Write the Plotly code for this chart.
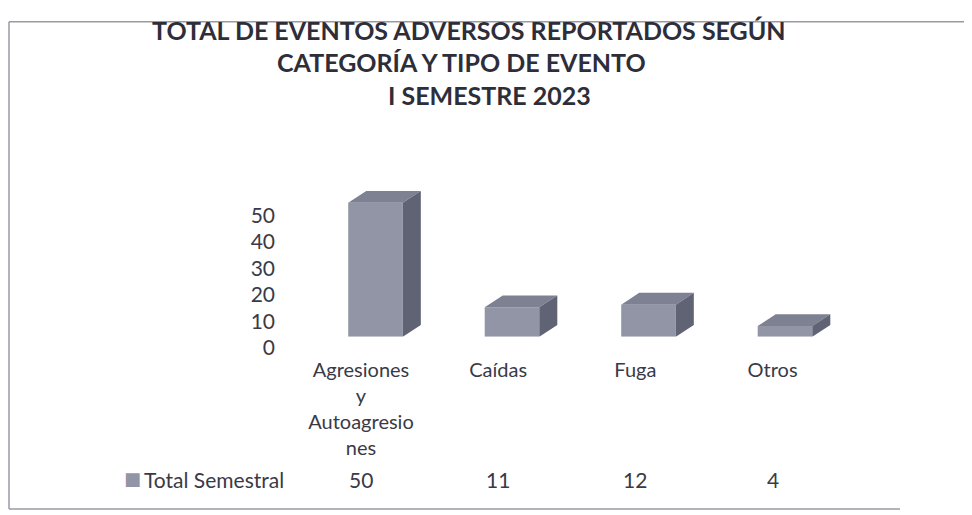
import plotly.graph_objects as go

categories = ["Agresiones y Autoagresiones", "Caídas", "Fuga", "Otros"]
tick_labels = ["Agresiones<br>y<br>Autoagresio<br>nes", "Caídas", "Fuga", "Otros"]
values = [50, 11, 12, 4]
series_name = "Total Semestral"
title_lines = ["TOTAL DE EVENTOS ADVERSOS REPORTADOS SEGÚN", "CATEGORÍA Y TIPO DE EVENTO", "I SEMESTRE 2023"]
y_ticks = [0, 10, 20, 30, 40, 50]

W, H = 972, 515
OFF_X = 8
OFF_Y = 0
FONT = "Lato, 'Open Sans', sans-serif"
TXT = "#3a3a46"
FRONT = "#9295a6"
TOP = "#7e8192"
SIDE = "#5f6374"

def px(x):
    return (x - OFF_X) / W

def py(y):
    return 1 - (y - OFF_Y) / H

# 3D projection parameters (in axis units)
bw = 0.40      # bar width (category units)
dx = 0.132     # depth offset along x
dy = 4.4       # depth offset along y

front_x, front_y, top_x, top_y, side_x, side_y = [], [], [], [], [], []
for i, v in enumerate(values):
    l, r = i - bw / 2, i + bw / 2
    front_x += [l, r, r, l, l, None]
    front_y += [0, 0, v, v, 0, None]
    top_x += [l, r, r + dx, l + dx, l, None]
    top_y += [v, v, v + dy, v + dy, v, None]
    side_x += [r, r + dx, r + dx, r, r, None]
    side_y += [0, dy, v + dy, v, 0, None]

fig = go.Figure()
for xs, ys, col in [(front_x, front_y, FRONT), (top_x, top_y, TOP), (side_x, side_y, SIDE)]:
    fig.add_trace(go.Scatter(x=xs, y=ys, fill="toself", fillcolor=col, mode="lines",
                             line=dict(width=0, color=col), xaxis="x2", yaxis="y2",
                             showlegend=False, hoverinfo="skip"))

# invisible trace on the label axis so categories exist there
fig.add_trace(go.Scatter(x=list(range(len(categories))), y=[0] * len(categories), mode="markers",
                         marker=dict(opacity=0), showlegend=False, hoverinfo="skip"))

YMAX = 56
PXU_LAB = 2.70
PXU_BAR = 2.74
y0_lab = 347
y0_bar = 336
FS = 21

fig.update_layout(
    width=W, height=H,
    margin=dict(l=0, r=0, t=0, b=0),
    paper_bgcolor="white", plot_bgcolor="rgba(0,0,0,0)",
    font=dict(family=FONT, color=TXT, size=FS),
    xaxis=dict(domain=[px(292.4), px(841.2)], range=[-0.5, 3.5], anchor="free", position=py(356),
               tickmode="array", tickvals=list(range(len(categories))), ticktext=tick_labels,
               showgrid=False, zeroline=False, showline=False, ticks="",
               tickfont=dict(size=20, color=TXT)),
    yaxis=dict(domain=[py(y0_lab), py(y0_lab - YMAX * PXU_LAB)], range=[0, YMAX], anchor="free",
               position=px(275), tickvals=y_ticks, showgrid=False,
               zeroline=False, showline=False, ticks="", tickfont=dict(size=FS, color=TXT)),
    xaxis2=dict(domain=[px(307.25), px(853.25)], range=[-0.5, 3.5], anchor="y2", visible=False),
    yaxis2=dict(domain=[py(y0_bar), py(y0_bar - YMAX * PXU_BAR)], range=[0, YMAX], anchor="x2",
                visible=False),
)

ann = []
for t, xx, yy in zip(title_lines, [469, 461, 489], [22, 55, 89]):
    ann.append(dict(text=f"<b>{t}</b>", x=px(xx), y=py(yy), xref="paper", yref="paper",
                    showarrow=False, xanchor="center", yanchor="middle",
                    font=dict(size=25, color="#2e2e3a", family=FONT)))
ann.append(dict(text="■", x=px(122), y=py(481), xref="paper", yref="paper", showarrow=False,
                xanchor="left", yanchor="middle",
                font=dict(size=18, color=FRONT, family="DejaVu Sans")))
ann.append(dict(text=series_name, x=px(142), y=py(482), xref="paper", yref="paper",
                showarrow=False, xanchor="left", yanchor="middle",
                font=dict(size=FS, color=TXT, family=FONT)))
for i, v in enumerate(values):
    ann.append(dict(text=str(v), x=i, y=py(482), xref="x", yref="paper", showarrow=False,
                    xanchor="center", yanchor="middle", font=dict(size=FS, color=TXT, family=FONT)))
fig.update_layout(annotations=ann)

# chart frame
border = "#9a9aa4"
fig.add_shape(type="line", xref="paper", yref="paper", x0=px(9), x1=px(9), y0=py(14), y1=py(512),
              line=dict(color=border, width=1.5))
fig.add_shape(type="line", xref="paper", yref="paper", x0=px(9), x1=1, y0=py(14), y1=py(14),
              line=dict(color=border, width=1.5))
fig.add_shape(type="line", xref="paper", yref="paper", x0=px(9), x1=px(900), y0=py(512), y1=py(512),
              line=dict(color=border, width=1.5))

fig.write_html("out.html")
